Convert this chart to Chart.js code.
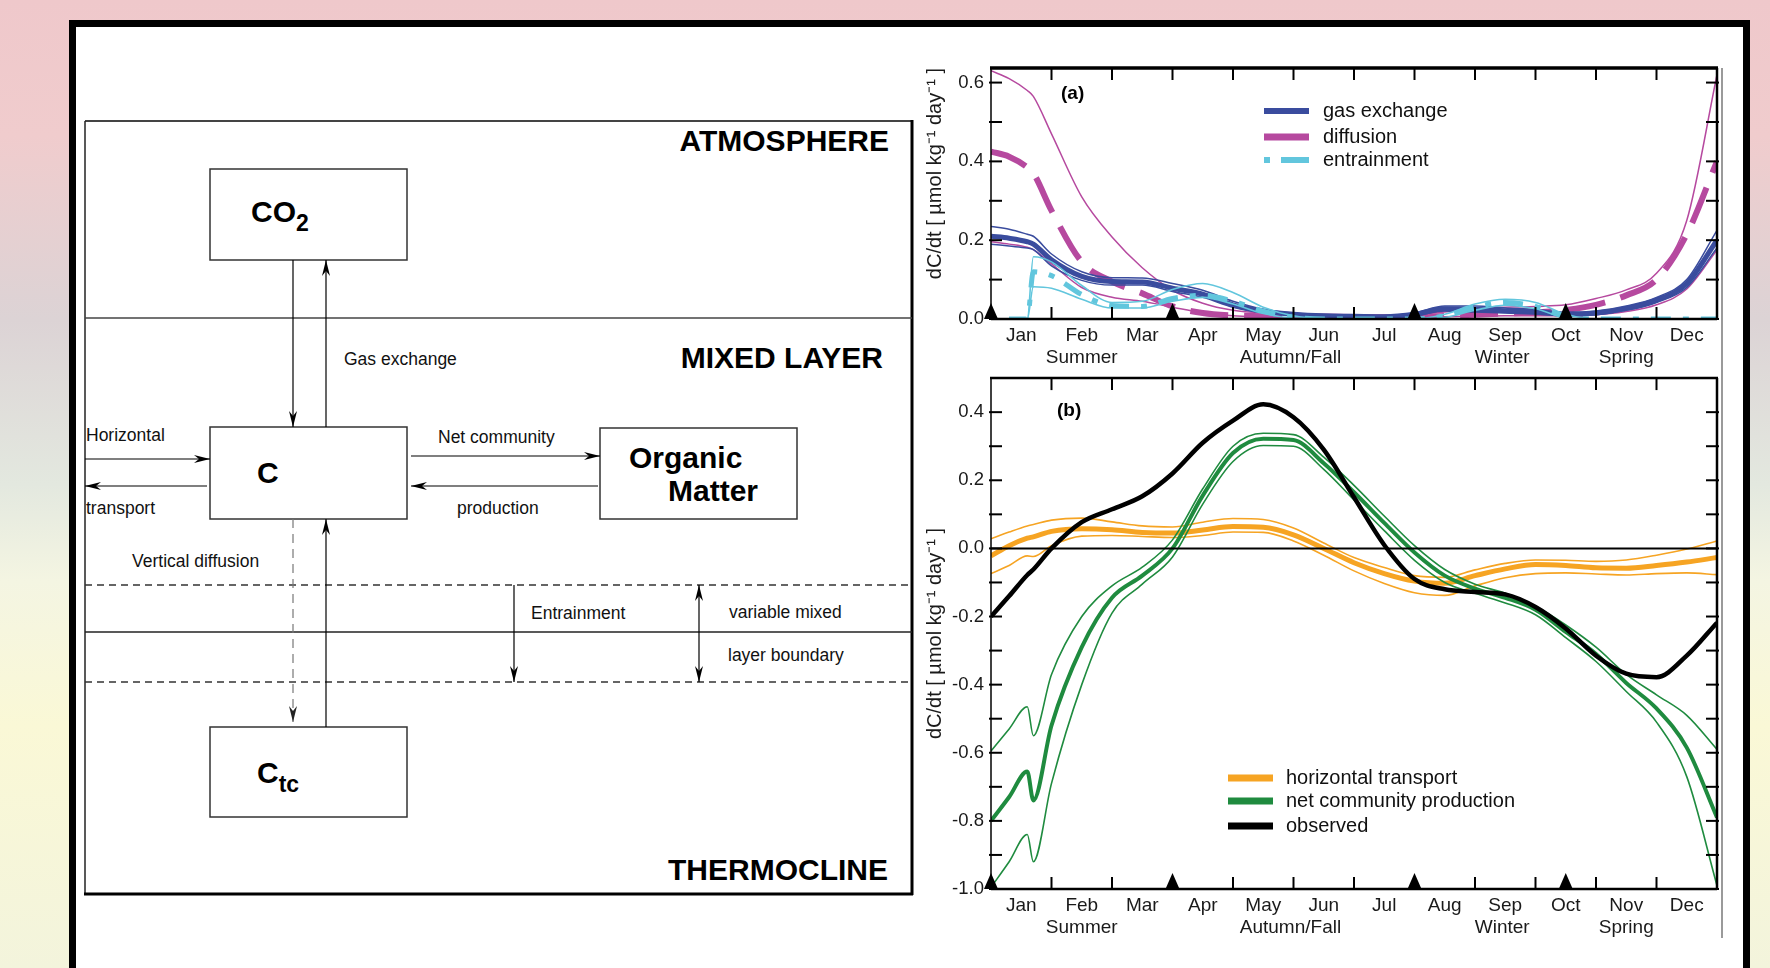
<!doctype html>
<html>
<head>
<meta charset="utf-8">
<title>Mixed layer carbon budget</title>
<script src="https://cdn.jsdelivr.net/npm/chart.js@4.4.1/dist/chart.umd.min.js"></script>
<style>
  html, body { margin: 0; padding: 0; }
  body {
    width: 1770px; height: 968px; overflow: hidden; position: relative;
    background: linear-gradient(180deg, #efc8cb 0%, #f0cccd 14%, #dcd3d5 33%, #e3e8df 50%, #f4f5e2 60%, #faf8d6 75%, #f3f4dc 100%);
    font-family: "Liberation Sans", Arial, sans-serif;
  }
  #slide {
    position: absolute; left: 69px; top: 20px; width: 1667px; height: 960px;
    background: #fff; border: 7px solid #000; border-bottom: none;
  }
  #diagram { position: absolute; left: 0; top: 0; }
  .holder { position: absolute; }
  #edge { position: absolute; left: 1721px; top: 68px; width: 2px; height: 870px; background: #9a9a9a; }
</style>
</head>
<body>
<div id="slide"></div>
<div id="edge"></div>

<svg id="diagram" width="930" height="968" viewBox="0 0 930 968" font-family="Liberation Sans, Arial, sans-serif">
  <defs>
    <marker id="ah" viewBox="0 0 16 8" refX="16" refY="4" markerWidth="16" markerHeight="8"
            orient="auto-start-reverse" markerUnits="userSpaceOnUse">
      <path d="M0,0 L16,4 L0,8 L5,4 Z" fill="#000"/>
    </marker>
    <marker id="ahg" viewBox="0 0 16 8" refX="16" refY="4" markerWidth="16" markerHeight="8"
            orient="auto-start-reverse" markerUnits="userSpaceOnUse">
      <path d="M0,0 L16,4 L0,8 L5,4 Z" fill="#222"/>
    </marker>
  </defs>

  <!-- outer box -->
  <line x1="85" y1="121" x2="912" y2="121" stroke="#444" stroke-width="2"/>
  <line x1="85" y1="121" x2="85" y2="894" stroke="#222" stroke-width="1.5"/>
  <line x1="912" y1="120" x2="912" y2="895" stroke="#000" stroke-width="3"/>
  <line x1="84" y1="894" x2="913" y2="894" stroke="#000" stroke-width="3"/>

  <!-- layers -->
  <line x1="85" y1="318" x2="912" y2="318" stroke="#444" stroke-width="1.5"/>
  <line x1="85" y1="585" x2="912" y2="585" stroke="#333" stroke-width="1.3" stroke-dasharray="7,5"/>
  <line x1="85" y1="632" x2="912" y2="632" stroke="#222" stroke-width="1.3"/>
  <line x1="85" y1="682" x2="912" y2="682" stroke="#333" stroke-width="1.3" stroke-dasharray="7,5"/>

  <!-- boxes -->
  <rect x="210" y="169" width="197" height="91" fill="#fff" stroke="#333" stroke-width="1.5"/>
  <rect x="210" y="427" width="197" height="92" fill="#fff" stroke="#333" stroke-width="1.5"/>
  <rect x="600" y="428" width="197" height="91" fill="#fff" stroke="#333" stroke-width="1.5"/>
  <rect x="210" y="727" width="197" height="90" fill="#fff" stroke="#333" stroke-width="1.5"/>

  <!-- arrows -->
  <line x1="293" y1="260" x2="293" y2="427" stroke="#000" stroke-width="1.2" marker-end="url(#ah)"/>
  <line x1="326" y1="427" x2="326" y2="260" stroke="#000" stroke-width="1.2" marker-end="url(#ah)"/>
  <line x1="85" y1="459" x2="210" y2="459" stroke="#000" stroke-width="1.2" marker-end="url(#ah)"/>
  <line x1="207" y1="486" x2="85" y2="486" stroke="#000" stroke-width="1.2" marker-end="url(#ah)"/>
  <line x1="411" y1="456" x2="600" y2="456" stroke="#000" stroke-width="1.2" marker-end="url(#ah)"/>
  <line x1="598" y1="486" x2="411" y2="486" stroke="#000" stroke-width="1.2" marker-end="url(#ah)"/>
  <line x1="293" y1="519" x2="293" y2="722" stroke="#777" stroke-width="1.2" stroke-dasharray="9,6" marker-end="url(#ahg)"/>
  <line x1="326" y1="727" x2="326" y2="519" stroke="#000" stroke-width="1.2" marker-end="url(#ah)"/>
  <line x1="514" y1="585" x2="514" y2="682" stroke="#000" stroke-width="1.2" marker-end="url(#ah)"/>
  <line x1="699" y1="585" x2="699" y2="682" stroke="#000" stroke-width="1.2" marker-start="url(#ah)" marker-end="url(#ah)"/>

  <!-- labels -->
  <g font-weight="bold" font-size="30" fill="#000" text-anchor="end">
    <text x="889" y="151">ATMOSPHERE</text>
    <text x="883" y="368">MIXED LAYER</text>
    <text x="888" y="880">THERMOCLINE</text>
  </g>
  <g font-weight="bold" font-size="30" fill="#000">
    <text x="251" y="222">CO<tspan font-size="23" dy="9">2</tspan></text>
    <text x="257" y="483">C</text>
    <text x="629" y="468">Organic</text>
    <text x="668" y="501">Matter</text>
    <text x="257" y="783">C<tspan font-size="23" dy="9">tc</tspan></text>
  </g>
  <g font-size="17.5" fill="#111">
    <text x="344" y="365">Gas exchange</text>
    <text x="86" y="441">Horizontal</text>
    <text x="86" y="514">transport</text>
    <text x="438" y="443">Net community</text>
    <text x="457" y="514">production</text>
    <text x="132" y="567">Vertical diffusion</text>
    <text x="531" y="619">Entrainment</text>
    <text x="729" y="618">variable mixed</text>
    <text x="728" y="661">layer boundary</text>
  </g>
</svg>

<div class="holder" style="left:920px; top:40px; width:820px; height:340px;">
  <canvas id="chartA" width="820" height="340"></canvas>
</div>
<div class="holder" style="left:920px; top:360px; width:820px; height:600px;">
  <canvas id="chartB" width="820" height="600"></canvas>
</div>

<script>
// sample positions in months since 1 Jan (0 = start of Jan, 12 = end of Dec)
var monthGrid = [0, 0.3, 0.6, 0.7, 1, 1.5, 2, 2.5, 3, 3.5, 4, 4.5, 5, 5.5, 6, 6.5, 7, 7.5, 8, 8.5, 9, 9.5, 10, 10.5, 11, 11.5, 12];

var monthNames = ['Jan', 'Feb', 'Mar', 'Apr', 'May', 'Jun', 'Jul', 'Aug', 'Sep', 'Oct', 'Nov', 'Dec'];
var seasonNames = ['Summer', 'Autumn/Fall', 'Winter', 'Spring'];
var seasonPos = [1.5, 4.95, 8.45, 10.5];
var seasonMarks = [0, 3, 7, 9.5];

var yTicksA = [0, 0.2, 0.4, 0.6];
var yMarksA = [0, 0.1, 0.2, 0.3, 0.4, 0.5, 0.6];
var yTicksB = [-1.0, -0.8, -0.6, -0.4, -0.2, 0.0, 0.2, 0.4];
var yMarksB = [-0.9, -0.7, -0.5, -0.3, -0.1, 0.1, 0.3, -1.0, -0.8, -0.6, -0.4, -0.2, 0.0, 0.2, 0.4];

// panel (a)
var gasMid  = [0.21, 0.205, 0.196, 0.19, 0.15, 0.108, 0.095, 0.094, 0.078, 0.063, 0.036, 0.02, 0.012, 0.008, 0.007, 0.006, 0.012, 0.026, 0.025, 0.021, 0.018, 0.012, 0.015, 0.027, 0.048, 0.09, 0.2];
var gasHi   = [0.235, 0.228, 0.215, 0.21, 0.165, 0.12, 0.105, 0.104, 0.09, 0.073, 0.045, 0.025, 0.015, 0.01, 0.009, 0.008, 0.016, 0.033, 0.033, 0.028, 0.024, 0.017, 0.02, 0.033, 0.055, 0.1, 0.225];
var gasLo   = [0.19, 0.185, 0.18, 0.176, 0.135, 0.098, 0.086, 0.086, 0.07, 0.055, 0.03, 0.016, 0.009, 0.006, 0.005, 0.004, 0.008, 0.02, 0.018, 0.015, 0.013, 0.008, 0.011, 0.022, 0.042, 0.08, 0.18];
var diffMid = [0.425, 0.412, 0.385, 0.37, 0.275, 0.145, 0.095, 0.065, 0.032, 0.015, 0.009, 0.007, 0.005, 0.004, 0.003, 0.004, 0.005, 0.008, 0.011, 0.014, 0.017, 0.023, 0.036, 0.06, 0.1, 0.215, 0.4];
var diffHi  = [0.63, 0.61, 0.58, 0.565, 0.47, 0.31, 0.208, 0.13, 0.073, 0.04, 0.022, 0.015, 0.013, 0.012, 0.011, 0.01, 0.012, 0.018, 0.025, 0.03, 0.032, 0.036, 0.052, 0.074, 0.116, 0.25, 0.62];
var diffLo  = [0.196, 0.19, 0.182, 0.176, 0.14, 0.08, 0.055, 0.045, 0.03, 0.016, 0.008, 0.005, 0.003, 0.003, 0.003, 0.003, 0.004, 0.006, 0.007, 0.008, 0.008, 0.009, 0.011, 0.019, 0.036, 0.076, 0.175];
var entMid  = [0, 0, 0, 0.12, 0.11, 0.062, 0.034, 0.032, 0.052, 0.06, 0.045, 0.02, 0.005, 0, 0, 0, 0, 0.008, 0.03, 0.042, 0.032, 0.006, 0, 0, 0, 0, 0];
var entHi   = [0, 0, 0, 0.158, 0.145, 0.085, 0.042, 0.045, 0.075, 0.09, 0.067, 0.03, 0.008, 0.001, 0, 0, 0, 0.012, 0.038, 0.05, 0.042, 0.012, 0, 0, 0, 0, 0];
var entLo   = [0, 0, 0, 0.082, 0.078, 0.05, 0.028, 0.028, 0.045, 0.055, 0.038, 0.014, 0.002, 0, 0, 0, 0, 0.004, 0.022, 0.035, 0.026, 0.003, 0, 0, 0, 0, 0];

// panel (b)
var hzMid  = [-0.022, 0.008, 0.03, 0.034, 0.05, 0.058, 0.055, 0.047, 0.045, 0.054, 0.064, 0.062, 0.04, 0.0, -0.042, -0.074, -0.096, -0.102, -0.08, -0.06, -0.047, -0.05, -0.057, -0.058, -0.05, -0.04, -0.027];
var hzHi   = [0.028, 0.048, 0.066, 0.07, 0.083, 0.089, 0.078, 0.066, 0.063, 0.077, 0.088, 0.085, 0.06, 0.016, -0.027, -0.056, -0.08, -0.085, -0.063, -0.044, -0.034, -0.035, -0.038, -0.034, -0.02, -0.002, 0.022];
var hzLo   = [-0.074, -0.05, -0.022, -0.024, 0.008, 0.036, 0.038, 0.035, 0.032, 0.038, 0.048, 0.047, 0.022, -0.02, -0.066, -0.103, -0.13, -0.138, -0.11, -0.086, -0.074, -0.072, -0.075, -0.078, -0.074, -0.072, -0.077];
var ncpMid = [-0.8, -0.73, -0.655, -0.74, -0.52, -0.29, -0.145, -0.08, 0.0, 0.155, 0.28, 0.322, 0.318, 0.25, 0.165, 0.075, -0.012, -0.08, -0.118, -0.145, -0.18, -0.245, -0.31, -0.395, -0.47, -0.585, -0.79];
var ncpHi  = [-0.595, -0.53, -0.465, -0.55, -0.37, -0.2, -0.11, -0.055, 0.025, 0.175, 0.3, 0.338, 0.334, 0.268, 0.185, 0.095, 0.008, -0.062, -0.105, -0.132, -0.17, -0.225, -0.29, -0.37, -0.43, -0.49, -0.59];
var ncpLo  = [-0.995, -0.92, -0.84, -0.92, -0.69, -0.4, -0.19, -0.105, -0.025, 0.13, 0.255, 0.302, 0.3, 0.232, 0.142, 0.052, -0.035, -0.1, -0.132, -0.16, -0.195, -0.262, -0.332, -0.42, -0.51, -0.67, -0.99];
var observed = [-0.2, -0.14, -0.078, -0.062, 0.0, 0.077, 0.115, 0.153, 0.22, 0.31, 0.375, 0.423, 0.385, 0.29, 0.15, 0.01, -0.09, -0.12, -0.128, -0.135, -0.172, -0.235, -0.315, -0.368, -0.378, -0.315, -0.218];

var BLUE = '#3a4c9e', MAGENTA = '#b6499f', CYAN = '#62c6dd';
var ORANGE = '#f6a423', GREEN = '#1f8b3f', BLACK = '#000';
var FONT = '"Liberation Sans", Arial, sans-serif';

function pts(vals) {
  return vals.map(function(v, i) { return {x: monthGrid[i], y: v}; });
}

function line(vals, color, width, dash) {
  return {
    data: pts(vals),
    borderColor: color,
    borderWidth: width,
    borderDash: dash || [],
    pointRadius: 0,
    fill: false,
    cubicInterpolationMode: 'monotone',
    clip: 0
  };
}

// month labels plus the season names on a second row
var xTickItems = monthNames.map(function(m, i) { return {value: i + 0.5, label: m}; })
  .concat(seasonNames.map(function(s, i) { return {value: seasonPos[i], label: ['', s]}; }));

var framePlugin = {
  id: 'frame',
  afterDatasetsDraw: function(chart, args, opts) {
    var ctx = chart.ctx, a = chart.chartArea, x = chart.scales.x, y = chart.scales.y;
    function seg(x1, y1, x2, y2) { ctx.beginPath(); ctx.moveTo(x1, y1); ctx.lineTo(x2, y2); ctx.stroke(); }
    ctx.save();
    ctx.strokeStyle = '#000';
    if (opts.zeroLine) {
      ctx.lineWidth = 2;
      var pz = y.getPixelForValue(0);
      seg(a.left, pz, a.right, pz);
    }
    ctx.lineWidth = 2;
    for (var m = 1; m < 12; m++) {
      var px = x.getPixelForValue(m);
      seg(px, a.bottom, px, a.bottom - 12);
      seg(px, a.top, px, a.top + 12);
    }
    opts.marks.forEach(function(v) {
      var py = y.getPixelForValue(v);
      seg(a.left - 2, py, a.left + 11, py);
      seg(a.right + 2, py, a.right - 11, py);
    });
    ctx.lineWidth = 1.5;
    seg(a.left, a.top, a.left, a.bottom);
    ctx.lineWidth = 2.5;
    seg(a.right, a.top, a.right, a.bottom);
    seg(a.left, a.bottom, a.right, a.bottom);
    ctx.lineWidth = opts.topWidth;
    seg(a.left - 1, a.top, a.right + 1, a.top);
    ctx.fillStyle = '#000';
    seasonMarks.forEach(function(mk) {
      var pm = x.getPixelForValue(mk);
      ctx.beginPath();
      ctx.moveTo(pm - 7, a.bottom);
      ctx.lineTo(pm + 7, a.bottom);
      ctx.lineTo(pm, a.bottom - 16);
      ctx.closePath();
      ctx.fill();
    });
    ctx.restore();
  },
  afterDraw: function(chart, args, opts) {
    var ctx = chart.ctx;
    ctx.save();
    ctx.fillStyle = '#000';
    ctx.font = 'bold 19px ' + FONT;
    ctx.textBaseline = 'middle';
    ctx.fillText(opts.panel, opts.panelX, opts.panelY);
    ctx.font = '20px ' + FONT;
    opts.legend.forEach(function(it, i) {
      var ly = opts.legendY[i];
      ctx.strokeStyle = it.color;
      ctx.lineWidth = it.width;
      ctx.setLineDash(it.dash || []);
      ctx.beginPath();
      ctx.moveTo(opts.sampleX[0], ly);
      ctx.lineTo(opts.sampleX[1], ly);
      ctx.stroke();
      ctx.setLineDash([]);
      ctx.fillStyle = '#111';
      ctx.fillText(it.label, opts.textX, ly);
    });
    ctx.restore();
  }
};

function scales(yMin, yMax, yTicks, xHeight, titleAlign) {
  return {
    x: {
      type: 'linear', min: 0, max: 12,
      grid: {display: false, drawTicks: false},
      border: {display: false},
      afterBuildTicks: function(s) { s.ticks = xTickItems.map(function(t) { return {value: t.value}; }); },
      afterFit: function(s) { s.height = xHeight; },
      ticks: {
        autoSkip: false, maxRotation: 0, padding: 5, color: '#1a1a1a',
        font: {size: 19, family: FONT, lineHeight: 1.2},
        callback: function(v, i) { return xTickItems[i].label; }
      }
    },
    y: {
      type: 'linear', min: yMin, max: yMax,
      grid: {display: false, drawTicks: false},
      border: {display: false},
      afterBuildTicks: function(s) { s.ticks = yTicks.map(function(v) { return {value: v}; }); },
      afterFit: function(s) { s.width = 71; },
      ticks: {
        padding: 7, color: '#1a1a1a',
        font: {size: 18.5, family: FONT},
        callback: function(v) { return v.toFixed(1); }
      },
      title: {
        display: true, text: 'dC/dt [ µmol kg⁻¹ day⁻¹ ]', align: titleAlign,
        color: '#1a1a1a', font: {size: 20, family: FONT, lineHeight: 1.2},
        padding: {top: 3, bottom: 0}
      }
    }
  };
}

var configA = {
  type: 'line',
  data: {
    datasets: [
      line(entHi, CYAN, 1.6),
      line(entLo, CYAN, 1.6),
      line(entMid, CYAN, 5, [6, 12, 20, 12]),
      line(gasHi, BLUE, 1.5),
      line(gasLo, BLUE, 1.5),
      line(gasMid, BLUE, 5),
      line(diffHi, MAGENTA, 1.5),
      line(diffLo, MAGENTA, 1.5),
      line(diffMid, MAGENTA, 6, [38, 16])
    ]
  },
  options: {
    responsive: false,
    animation: false,
    layout: {padding: {left: 0, right: 23, top: 28, bottom: 0}},
    plugins: {
      legend: {display: false},
      tooltip: {enabled: false},
      frame: {
        marks: yMarksA, topWidth: 3.5, zeroLine: false,
        panel: '(a)', panelX: 141, panelY: 54,
        sampleX: [344, 389], textX: 403, legendY: [71, 97, 120],
        legend: [
          {label: 'gas exchange', color: BLUE, width: 6},
          {label: 'diffusion', color: MAGENTA, width: 7},
          {label: 'entrainment', color: CYAN, width: 6, dash: [6, 11, 40]}
        ]
      }
    },
    scales: scales(0, 0.637, yTicksA, 61, 'end')
  },
  plugins: [framePlugin]
};

var configB = {
  type: 'line',
  data: {
    datasets: [
      line(observed, BLACK, 4.5),
      line(ncpHi, GREEN, 1.6),
      line(ncpLo, GREEN, 1.6),
      line(ncpMid, GREEN, 4),
      line(hzHi, ORANGE, 1.6),
      line(hzLo, ORANGE, 1.6),
      line(hzMid, ORANGE, 5)
    ]
  },
  options: {
    responsive: false,
    animation: false,
    layout: {padding: {left: 0, right: 23, top: 17, bottom: 0}},
    plugins: {
      legend: {display: false},
      tooltip: {enabled: false},
      frame: {
        marks: yMarksB, topWidth: 2.5, zeroLine: true,
        panel: '(b)', panelX: 137, panelY: 51,
        sampleX: [308, 353], textX: 366, legendY: [418, 441, 466],
        legend: [
          {label: 'horizontal transport', color: ORANGE, width: 7},
          {label: 'net community production', color: GREEN, width: 7},
          {label: 'observed', color: BLACK, width: 7}
        ]
      }
    },
    scales: scales(-1.0, 0.5, yTicksB, 71, 'center')
  },
  plugins: [framePlugin]
};

window.onload = function() {
  window.chartA = new Chart(document.getElementById('chartA').getContext('2d'), configA);
  window.chartB = new Chart(document.getElementById('chartB').getContext('2d'), configB);
};
</script>
</body>
</html>
